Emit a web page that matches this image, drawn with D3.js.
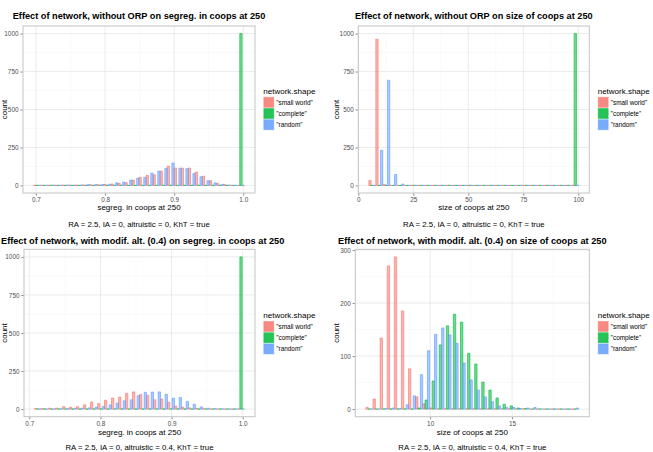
<!DOCTYPE html>
<html><head><meta charset="utf-8">
<script src="https://cdn.jsdelivr.net/npm/d3@7"></script>
<style>
body{margin:0;background:#fff}
svg{display:block}
text{font-family:"Liberation Sans",Arial,Helvetica,sans-serif}
</style>
</head><body>
<svg id="chart" width="653" height="452"></svg>
<script>
// ---------- DATA ----------
const shapes = ['"small world"', '"complete"', '"random"'];
const shapeColors = ["#F8766D", "#00BA38", "#619CFF"];

// Panel 1: segregation, without ORP (bin centres)
const segNoOrpBins = [0.7016,0.7118,0.7219,0.7321,0.7423,0.7525,0.7626,0.7728,0.7830,0.7932,
  0.8033,0.8135,0.8237,0.8338,0.8440,0.8542,0.8644,0.8745,0.8847,0.8949,
  0.9051,0.9152,0.9254,0.9356,0.9458,0.9559,0.9661,0.9763,0.9864,0.9966];
const segNoOrpSmallWorld = [1,1,1,1,2,2,2,3,4,5,6,9,13,18,35,53,66,70,94,127,114,114,114,88,61,31,13,7,1,0];
const segNoOrpComplete   = [0,0,0,0,0,0,0,0,0,0,0,0,0,0,0,0,0,0,0,0,0,0,0,0,0,0,0,0,0,1000];
const segNoOrpRandom     = [1,1,2,1,2,2,3,6,5,6,8,17,22,35,48,53,81,94,112,147,114,110,79,57,31,17,7,2,1,0];

// Panel 2: size, without ORP
const sizeNoOrpBins = [6.36,9.54,12.72,15.91,19.09,22.27,25.45,28.63,31.82,35.00,
  38.18,41.36,44.54,47.73,50.91,54.09,57.27,60.45,63.64,66.82,
  70.00,73.18,76.36,79.55,82.73,85.91,89.09,92.27,95.46,98.64];
const sizeNoOrpSmallWorld = [33,963,7,0,0,0,0,0,0,0,0,0,0,0,0,0,0,0,0,0,0,0,0,0,0,0,0,0,0,0];
const sizeNoOrpComplete   = [0,0,0,0,0,0,0,0,0,0,0,0,0,0,0,0,0,0,0,0,0,0,0,0,0,0,0,0,0,1000];
const sizeNoOrpRandom     = [0,232,693,72,9,0,0,0,0,0,0,0,0,0,0,0,0,0,0,0,0,0,0,0,0,0,0,0,0,0];

// Panel 3: segregation, modif. alt. (0.4)
const segAltBins = [0.7122,0.7220,0.7319,0.7417,0.7516,0.7614,0.7712,0.7811,0.7909,0.8008,
  0.8106,0.8204,0.8303,0.8401,0.8500,0.8598,0.8697,0.8795,0.8893,0.8992,
  0.9090,0.9189,0.9287,0.9385,0.9484,0.9582,0.9681,0.9779,0.9877,0.9976];
const segAltSmallWorld = [4,4,6,6,16,12,16,28,47,36,58,73,79,104,113,96,90,61,67,45,20,13,8,4,2,1,0,0,0,0];
const segAltComplete   = [0,0,0,0,0,0,0,0,0,0,0,0,0,0,0,0,0,0,0,0,0,0,0,0,0,0,0,0,0,1000];
const segAltRandom     = [1,0,1,2,3,4,6,8,13,18,28,40,55,61,88,110,112,113,98,72,76,50,32,14,6,3,2,1,1,0];

// Panel 4: size, modif. alt. (0.4)
const sizeAltBins = [6.300,6.733,7.165,7.598,8.030,8.463,8.895,9.328,9.760,10.193,
  10.625,11.058,11.490,11.923,12.355,12.788,13.220,13.653,14.085,14.518,
  14.950,15.383,15.815,16.248,16.680,17.113,17.545,17.978,18.410,18.843];
const sizeAltSmallWorld = [3,19,134,270,287,185,76,23,10,2,0,0,0,0,0,0,0,0,0,0,0,0,0,0,0,0,0,0,0,0];
const sizeAltComplete   = [0,0,0,0,0,0,0,2,17,53,121,157,179,164,105,85,51,36,21,9,6,2,1,0,0,0,0,0,0,0];
const sizeAltRandom     = [0,0,1,2,1,8,25,65,110,141,153,140,124,87,55,36,23,14,6,3,3,1,2,3,0,0,0,0,0,2];

// Axis ticks and labels
const segTicks = [0.7, 0.8, 0.9, 1.0];
const segTickLabels = ["0.7", "0.8", "0.9", "1.0"];
const sizeNoOrpTicks = [0, 25, 50, 75, 100];
const sizeNoOrpTickLabels = ["0", "25", "50", "75", "100"];
const sizeAltTicks = [10, 15];
const sizeAltTickLabels = ["10", "15"];
const countTicksA = [0, 250, 500, 750, 1000];
const countTicksB = [0, 100, 200, 300];

// Texts
const panelTitles = [
  "Effect of network, without ORP on segreg. in coops at 250",
  "Effect of network, without ORP on size of coops at 250",
  "Effect of network, with modif. alt. (0.4) on segreg. in coops at 250",
  "Effect of network, with modif. alt. (0.4) on size of coops at 250"
];
const xTitles = ["segreg. in coops at 250", "size of coops at 250", "segreg. in coops at 250", "size of coops at 250"];
const captions = [
  "RA = 2.5, IA = 0, altruistic = 0, KhT = true",
  "RA = 2.5, IA = 0, altruistic = 0, KhT = true",
  "RA = 2.5, IA = 0, altruistic = 0.4, KhT = true",
  "RA = 2.5, IA = 0, altruistic = 0.4, KhT = true"
];
const yTitle = "count";
const legendTitle = "network.shape";

// ---------- LAYOUT ----------
const panels = [
  {bins: segNoOrpBins, series: [segNoOrpSmallWorld, segNoOrpComplete, segNoOrpRandom],
   xt: segTicks, xtl: segTickLabels, yt: countTicksA,
   box: {l: 23, t: 26, r: 255, b: 193}, row: 0, ylabX: 4.2, legX: 263.3},
  {bins: sizeNoOrpBins, series: [sizeNoOrpSmallWorld, sizeNoOrpComplete, sizeNoOrpRandom],
   xt: sizeNoOrpTicks, xtl: sizeNoOrpTickLabels, yt: countTicksA,
   box: {l: 358.3, t: 26, r: 589.3, b: 193}, row: 0, ylabX: 336, legX: 597.7},
  {bins: segAltBins, series: [segAltSmallWorld, segAltComplete, segAltRandom],
   xt: segTicks, xtl: segTickLabels, yt: countTicksA,
   box: {l: 24, t: 249.3, r: 255, b: 416.7}, row: 1, ylabX: 4.2, legX: 263.3},
  {bins: sizeAltBins, series: [sizeAltSmallWorld, sizeAltComplete, sizeAltRandom],
   xt: sizeAltTicks, xtl: sizeAltTickLabels, yt: countTicksB,
   box: {l: 355.3, t: 249.3, r: 589.3, b: 416.7}, row: 1, ylabX: 336, legX: 597.7}
];
const rowText = [
  {title: 15.7, xtitle: 207, caption: 224, legTitle: 91, legKey: 96.8},
  {title: 240.3, xtitle: 431.7, caption: 447.7, legTitle: 315.3, legKey: 321}
];

const svg = d3.select("#chart");
const FONT = '"Liberation Sans",Arial,Helvetica,sans-serif';

panels.forEach((p, pi) => {
  const b = p.box;
  const bw = p.bins[1] - p.bins[0];
  const lo = p.bins[0] - bw / 2, hi = p.bins[p.bins.length - 1] + bw / 2;
  const padX = (hi - lo) * 0.05;
  const x = d3.scaleLinear().domain([lo - padX, hi + padX]).range([b.l, b.r]);
  const ymax = d3.max(p.series.flat());
  const y = d3.scaleLinear().domain([-ymax * 0.05, ymax * 1.05]).range([b.b, b.t]);
  const g = svg.append("g");

  g.append("rect").attr("x", b.l).attr("y", b.t).attr("width", b.r - b.l).attr("height", b.b - b.t)
    .attr("fill", "#fff");

  // minor grid
  const minorX = [], minorY = [];
  const xstep = p.xt[1] - p.xt[0], ystep = p.yt[1] - p.yt[0];
  const xd = x.domain(), yd = y.domain();
  for (let v = p.xt[0] - xstep / 2; v <= xd[1]; v += xstep) if (v >= xd[0]) minorX.push(v);
  for (let v = p.yt[0] - ystep / 2; v <= yd[1]; v += ystep) if (v >= yd[0]) minorY.push(v);
  g.selectAll(null).data(minorX).join("line")
    .attr("x1", d => x(d)).attr("x2", d => x(d)).attr("y1", b.t).attr("y2", b.b)
    .attr("stroke", "#f4f4f4").attr("stroke-width", 0.5);
  g.selectAll(null).data(minorY).join("line")
    .attr("y1", d => y(d)).attr("y2", d => y(d)).attr("x1", b.l).attr("x2", b.r)
    .attr("stroke", "#f4f4f4").attr("stroke-width", 0.5);
  // major grid
  g.selectAll(null).data(p.xt).join("line")
    .attr("x1", d => x(d)).attr("x2", d => x(d)).attr("y1", b.t).attr("y2", b.b)
    .attr("stroke", "#e6e6e6").attr("stroke-width", 0.8);
  g.selectAll(null).data(p.yt).join("line")
    .attr("y1", d => y(d)).attr("y2", d => y(d)).attr("x1", b.l).attr("x2", b.r)
    .attr("stroke", "#e6e6e6").attr("stroke-width", 0.8);

  // bars (dodged histogram)
  const sub = bw / 3;
  p.series.forEach((vals, si) => {
    g.selectAll(null).data(vals.map((v, i) => ({c: p.bins[i], v}))).join("path")
      .attr("d", d => {
        const x0 = x(d.c - bw / 2 + si * sub), x1 = x(d.c - bw / 2 + (si + 1) * sub);
        const y0 = y(0), y1 = y(d.v);
        return `M${x0},${y0}H${x1}V${y1}H${x0}Z`;
      })
      .attr("fill", shapeColors[si]).attr("fill-opacity", 0.55)
      .attr("stroke", shapeColors[si]).attr("stroke-width", 0.6);
  });

  // border
  g.append("rect").attr("x", b.l).attr("y", b.t).attr("width", b.r - b.l).attr("height", b.b - b.t)
    .attr("fill", "none").attr("stroke", "#c4c4c4").attr("stroke-width", 1);

  // axes
  const ax = g.append("g").attr("transform", `translate(0,${b.b + 0.5})`)
    .call(d3.axisBottom(x).tickValues(p.xt).tickFormat((d, i) => p.xtl[i]).tickSize(2.2).tickPadding(1.8));
  const ay = g.append("g").attr("transform", `translate(${b.l - 0.5},0)`)
    .call(d3.axisLeft(y).tickValues(p.yt).tickFormat(d3.format("d")).tickSize(2.2).tickPadding(1.8));
  [ax, ay].forEach(a => {
    a.select(".domain").remove();
    a.attr("font-size", 6.4).attr("font-family", FONT);
    a.selectAll("line").attr("stroke", "#444").attr("stroke-width", 0.6);
    a.selectAll("text").attr("fill", "#4d4d4d");
  });

  const cx = (b.l + b.r) / 2, cy = (b.t + b.b) / 2;
  const rt = rowText[p.row];
  // title (kept inside the page)
  const t = g.append("text").attr("x", cx).attr("y", rt.title).attr("dy", "0.35em")
    .attr("text-anchor", "middle").attr("font-size", 9.2).attr("font-weight", "bold")
    .attr("fill", "#000").text(panelTitles[pi]);
  const tw = t.node().getComputedTextLength();
  if (cx - tw / 2 < 1) t.attr("x", 1 + tw / 2);
  // x title
  g.append("text").attr("x", cx).attr("y", rt.xtitle).attr("dy", "0.35em")
    .attr("text-anchor", "middle").attr("font-size", 8).attr("fill", "#000").text(xTitles[pi]);
  // caption
  g.append("text").attr("x", cx).attr("y", rt.caption).attr("dy", "0.35em")
    .attr("text-anchor", "middle").attr("font-size", 7.8).attr("fill", "#000").text(captions[pi]);
  // y title
  g.append("text").attr("transform", `translate(${p.ylabX},${cy}) rotate(-90)`).attr("dy", "0.35em")
    .attr("text-anchor", "middle").attr("font-size", 8).attr("fill", "#000").text(yTitle);

  // legend
  const lg = g.append("g");
  lg.append("text").attr("x", p.legX).attr("y", rt.legTitle).attr("dy", "0.35em")
    .attr("font-size", 8).attr("fill", "#000").text(legendTitle);
  shapes.forEach((s, si) => {
    const ky = rt.legKey + si * 11.2;
    lg.append("rect").attr("x", p.legX + 0.5).attr("y", ky + 0.5).attr("width", 10).attr("height", 10)
      .attr("fill", shapeColors[si]).attr("fill-opacity", 0.85)
      .attr("stroke", shapeColors[si]).attr("stroke-opacity", 0.45).attr("stroke-width", 1);
    lg.append("text").attr("x", p.legX + 13).attr("y", ky + 5.5).attr("dy", "0.35em")
      .attr("font-size", 6.4).attr("fill", "#000").text(s);
  });
});
</script>
</body></html>
